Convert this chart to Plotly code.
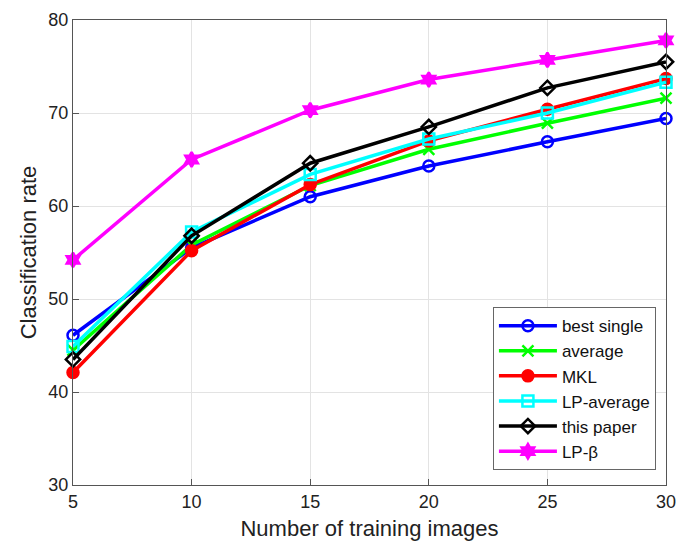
import plotly.graph_objects as go

x = [5, 10, 15, 20, 25, 30]
best_single = [46.1, 55.5, 61.0, 64.3, 66.9, 69.4]
average = [44.5, 55.8, 62.2, 66.1, 68.9, 71.6]
mkl = [42.1, 55.2, 62.3, 67.0, 70.4, 73.7]
lp_average = [44.9, 57.2, 63.4, 67.2, 70.0, 73.3]
this_paper = [43.5, 56.8, 64.6, 68.5, 72.7, 75.5]
lp_beta = [54.2, 65.0, 70.3, 73.6, 75.7, 77.8]

series = [
    ("best single", best_single, "#0000ff", "circle-open"),
    ("average", average, "#00ff00", "x-thin-open"),
    ("MKL", mkl, "#ff0000", "circle"),
    ("LP-average", lp_average, "#00ffff", "square-open"),
    ("this paper", this_paper, "#000000", "diamond-open"),
    ("LP-β", lp_beta, "#ff00ff", "hexagram"),
]

fig = go.Figure()
for name, y, c, sym in series:
    fig.add_trace(go.Scatter(
        x=x, y=y, name=name, mode="lines+markers",
        line=dict(color=c, width=3.5),
        marker=dict(symbol=sym, size=11, color=c, line=dict(color=c, width=2.5)),
        cliponaxis=False,
    ))

font = "Liberation Sans, Arial, sans-serif"
fig.update_layout(
    width=678, height=533,
    margin=dict(l=65, r=20, t=12, b=56),
    paper_bgcolor="white", plot_bgcolor="white",
    font=dict(family=font, size=18, color="#222"),
    showlegend=True,
    legend=dict(x=0.983, y=0.032, xanchor="right", yanchor="bottom",
                bgcolor="white", bordercolor="#666", borderwidth=1,
                itemwidth=58,
                font=dict(size=17, color="#111"), tracegroupgap=0),
    xaxis=dict(range=[5, 30], tickvals=[5, 10, 15, 20, 25, 30],
               showgrid=True, gridcolor="#e3e3e3", gridwidth=1, automargin=False,
               showline=True, linecolor="#555", mirror=True, linewidth=1,
               ticks="inside", ticklen=6, tickcolor="#555", zeroline=False,
               title=dict(text="Number of training images", font=dict(size=22), standoff=10)),
    yaxis=dict(range=[30, 80], tickvals=[30, 40, 50, 60, 70, 80],
               showgrid=True, gridcolor="#e3e3e3", gridwidth=1, automargin=False,
               showline=True, linecolor="#555", mirror=True, linewidth=1,
               ticks="inside", ticklen=6, tickcolor="#555", zeroline=False,
               title=dict(text="Classification rate", font=dict(size=22), standoff=5)),
)
fig.write_html("out.html")
